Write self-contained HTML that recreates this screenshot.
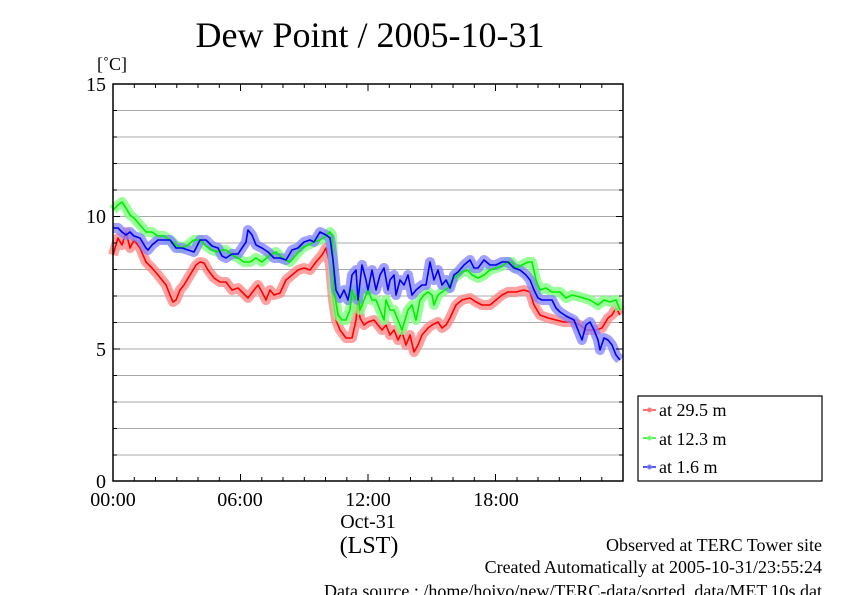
<!DOCTYPE html>
<html><head><meta charset="utf-8"><style>
html,body{margin:0;padding:0;background:#fff;}
svg{display:block;font-family:"Liberation Serif",serif;}
</style></head><body>
<svg width="842" height="595" viewBox="0 0 842 595" xmlns="http://www.w3.org/2000/svg">
<rect width="842" height="595" fill="#fff"/>
<text x="370" y="47" font-size="36" text-anchor="middle">Dew Point / 2005-10-31</text>
<text x="97" y="70" font-size="18">[˚C]</text>
<g stroke="#aaa" stroke-width="1">
<line x1="113" x2="623" y1="110.5" y2="110.5"/><line x1="113" x2="623" y1="137" y2="137"/><line x1="113" x2="623" y1="163.5" y2="163.5"/><line x1="113" x2="623" y1="190" y2="190"/><line x1="113" x2="623" y1="216.5" y2="216.5"/><line x1="113" x2="623" y1="243" y2="243"/><line x1="113" x2="623" y1="269.5" y2="269.5"/><line x1="113" x2="623" y1="296" y2="296"/><line x1="113" x2="623" y1="322.5" y2="322.5"/><line x1="113" x2="623" y1="349" y2="349"/><line x1="113" x2="623" y1="375.5" y2="375.5"/><line x1="113" x2="623" y1="402" y2="402"/><line x1="113" x2="623" y1="428.5" y2="428.5"/><line x1="113" x2="623" y1="455" y2="455"/>
</g>
<g fill="none" stroke-linejoin="round">
<polyline stroke="#ff8080" stroke-opacity="0.75" stroke-width="10" points="113,255 118,238 122,245 126,232 130,248 134,240 140,248 146,262 152,268 158,275 162,280 166,285 170,295 173,302 176,300 180,290 184,285 190,275 196,265 200,262 204,263 208,270 214,278 220,282 226,282 232,290 238,288 242,292 248,298 254,290 258,285 262,292 266,300 270,290 274,295 280,293 286,280 292,275 298,270 304,268 310,270 316,262 322,255 326,248 330,265 333,300 336,320 340,330 346,338 352,338 356,320 358,300 360,318 364,325 368,322 374,320 378,325 382,330 386,325 390,335 394,330 398,340 402,332 406,345 410,335 414,352 418,345 422,335 428,328 432,325 438,322 442,328 446,325 450,318 456,305 462,300 470,298 476,302 482,305 490,305 496,300 502,295 508,292 516,292 524,290 530,292 534,305 540,315 548,318 556,320 564,322 572,322 580,325 586,330 590,330 596,330 602,328 608,318 612,315 616,308 620,315"/>
<polyline stroke="#ff0000" stroke-width="1.6" points="113,255 118,238 122,245 126,232 130,248 134,240 140,248 146,262 152,268 158,275 162,280 166,285 170,295 173,302 176,300 180,290 184,285 190,275 196,265 200,262 204,263 208,270 214,278 220,282 226,282 232,290 238,288 242,292 248,298 254,290 258,285 262,292 266,300 270,290 274,295 280,293 286,280 292,275 298,270 304,268 310,270 316,262 322,255 326,248 330,265 333,300 336,320 340,330 346,338 352,338 356,320 358,300 360,318 364,325 368,322 374,320 378,325 382,330 386,325 390,335 394,330 398,340 402,332 406,345 410,335 414,352 418,345 422,335 428,328 432,325 438,322 442,328 446,325 450,318 456,305 462,300 470,298 476,302 482,305 490,305 496,300 502,295 508,292 516,292 524,290 530,292 534,305 540,315 548,318 556,320 564,322 572,322 580,325 586,330 590,330 596,330 602,328 608,318 612,315 616,308 620,315"/>
<polyline stroke="#80ff80" stroke-opacity="0.8" stroke-width="10" points="113,210 118,205 122,202 126,208 130,215 134,218 140,225 146,232 152,232 158,236 164,236 170,240 176,245 182,248 188,245 194,240 200,240 206,246 212,250 218,252 222,250 226,250 232,255 238,258 244,262 250,262 256,258 262,262 270,255 276,252 282,258 290,262 296,255 302,248 308,245 314,242 320,240 326,236 330,232 332,235 334,290 338,315 342,320 346,320 350,310 352,290 355,300 358,290 360,310 364,300 368,290 372,300 376,300 380,310 384,320 386,300 390,310 394,310 398,320 402,330 408,310 412,305 416,320 420,300 424,295 428,292 432,295 434,305 438,295 442,292 448,288 452,280 458,275 462,272 468,270 472,275 478,278 484,275 490,270 496,268 502,266 508,262 512,262 516,268 522,265 528,262 532,262 536,280 540,290 546,288 552,292 560,292 566,298 572,295 580,297 590,300 598,305 604,300 610,302 616,300 620,310"/>
<polyline stroke="#8080ff" stroke-opacity="0.75" stroke-width="10" points="113,228 118,228 122,232 126,235 130,232 134,236 140,238 146,248 148,250 152,245 158,240 164,240 170,240 176,248 182,248 188,250 194,252 200,240 206,240 212,246 218,248 222,256 226,258 232,254 238,254 242,248 246,242 248,230 252,235 256,245 262,248 268,252 274,258 280,258 286,260 292,250 298,248 304,242 310,240 314,242 320,232 326,235 330,238 333,260 336,290 340,298 344,290 348,300 350,290 352,275 356,270 358,300 362,265 366,280 368,290 372,270 376,290 380,275 384,268 388,290 390,280 394,275 396,295 400,280 404,285 408,275 412,295 416,290 422,285 426,285 430,262 434,280 438,270 442,285 446,280 450,288 454,275 458,272 464,265 470,260 474,268 478,268 484,260 490,265 496,265 502,262 508,262 514,268 520,270 526,275 530,280 534,290 538,298 542,300 548,300 552,300 556,308 560,312 566,316 570,318 574,320 578,330 582,340 586,325 590,322 594,330 598,340 600,350 604,338 608,340 612,345 616,355 620,360"/>
<polyline stroke="#00ee00" stroke-width="1.6" points="113,210 118,205 122,202 126,208 130,215 134,218 140,225 146,232 152,232 158,236 164,236 170,240 176,245 182,248 188,245 194,240 200,240 206,246 212,250 218,252 222,250 226,250 232,255 238,258 244,262 250,262 256,258 262,262 270,255 276,252 282,258 290,262 296,255 302,248 308,245 314,242 320,240 326,236 330,232 332,235 334,290 338,315 342,320 346,320 350,310 352,290 355,300 358,290 360,310 364,300 368,290 372,300 376,300 380,310 384,320 386,300 390,310 394,310 398,320 402,330 408,310 412,305 416,320 420,300 424,295 428,292 432,295 434,305 438,295 442,292 448,288 452,280 458,275 462,272 468,270 472,275 478,278 484,275 490,270 496,268 502,266 508,262 512,262 516,268 522,265 528,262 532,262 536,280 540,290 546,288 552,292 560,292 566,298 572,295 580,297 590,300 598,305 604,300 610,302 616,300 620,310"/>
<polyline stroke="#0000ee" stroke-width="1.6" points="113,228 118,228 122,232 126,235 130,232 134,236 140,238 146,248 148,250 152,245 158,240 164,240 170,240 176,248 182,248 188,250 194,252 200,240 206,240 212,246 218,248 222,256 226,258 232,254 238,254 242,248 246,242 248,230 252,235 256,245 262,248 268,252 274,258 280,258 286,260 292,250 298,248 304,242 310,240 314,242 320,232 326,235 330,238 333,260 336,290 340,298 344,290 348,300 350,290 352,275 356,270 358,300 362,265 366,280 368,290 372,270 376,290 380,275 384,268 388,290 390,280 394,275 396,295 400,280 404,285 408,275 412,295 416,290 422,285 426,285 430,262 434,280 438,270 442,285 446,280 450,288 454,275 458,272 464,265 470,260 474,268 478,268 484,260 490,265 496,265 502,262 508,262 514,268 520,270 526,275 530,280 534,290 538,298 542,300 548,300 552,300 556,308 560,312 566,316 570,318 574,320 578,330 582,340 586,325 590,322 594,330 598,340 600,350 604,338 608,340 612,345 616,355 620,360"/>
</g>
<rect x="113" y="84" width="510" height="397" fill="none" stroke="#000" stroke-width="1.5"/>
<g stroke="#000" stroke-width="1">
<path d="M134.3,84v4M155.5,84v4M176.8,84v4M198,84v4M219.3,84v4M261.8,84v4M283,84v4M304.3,84v4M325.5,84v4M346.8,84v4M389.3,84v4M410.5,84v4M431.8,84v4M453,84v4M474.3,84v4M517,84v4M538,84v4M559.3,84v4M580.5,84v4M601.8,84v4"/>
<path d="M240.5,84v7M368,84v7M495.5,84v7"/>
<path d="M134.3,481v-4M155.5,481v-4M176.8,481v-4M198,481v-4M219.3,481v-4M261.8,481v-4M283,481v-4M304.3,481v-4M325.5,481v-4M346.8,481v-4M389.3,481v-4M410.5,481v-4M431.8,481v-4M453,481v-4M474.3,481v-4M517,481v-4M538,481v-4M559.3,481v-4M580.5,481v-4M601.8,481v-4"/>
<path d="M240.5,481v-7M368,481v-7M495.5,481v-7"/>
<path d="M113,110.5h4M113,137h4M113,163.5h4M113,190h4M113,243h4M113,269.5h4M113,296h4M113,322.5h4M113,375.5h4M113,402h4M113,428.5h4M113,455h4M113,216.5h7M113,349h7"/>
<path d="M623,110.5h-4M623,137h-4M623,163.5h-4M623,190h-4M623,243h-4M623,269.5h-4M623,296h-4M623,322.5h-4M623,375.5h-4M623,402h-4M623,428.5h-4M623,455h-4M623,216.5h-7M623,349h-7"/>
</g>
<g font-size="20" text-anchor="end">
<text x="106" y="91">15</text><text x="106" y="223">10</text><text x="106" y="356">5</text><text x="106" y="488">0</text>
</g>
<g font-size="20" text-anchor="middle">
<text x="113" y="506">00:00</text><text x="240" y="506">06:00</text><text x="368" y="506">12:00</text><text x="496" y="506">18:00</text>
<text x="368" y="528">Oct-31</text>
<text x="369" y="553" font-size="24">(LST)</text>
</g>
<rect x="638" y="396" width="184" height="85" fill="#fff" stroke="#000" stroke-width="1.2"/>
<g stroke-width="1.5">
<line x1="643" x2="656" y1="410" y2="410" stroke="#ff4040"/><circle cx="649.5" cy="410" r="1.8" fill="none" stroke="#ff8080"/>
<line x1="643" x2="656" y1="438" y2="438" stroke="#20ee20"/><circle cx="649.5" cy="438" r="1.8" fill="none" stroke="#80ff80"/>
<line x1="643" x2="656" y1="467" y2="467" stroke="#2020ee"/><circle cx="649.5" cy="467" r="1.8" fill="none" stroke="#8080ff"/>
</g>
<g font-size="18">
<text x="659" y="416">at 29.5 m</text><text x="659" y="445">at 12.3 m</text><text x="659" y="473">at 1.6 m</text>
</g>
<g font-size="18" text-anchor="end">
<text x="822" y="551">Observed at TERC Tower site</text>
<text x="822" y="573">Created Automatically at 2005-10-31/23:55:24</text>
<text x="822" y="597">Data source : /home/hoivo/new/TERC-data/sorted_data/MET.10s.dat</text>
</g>
</svg>
</body></html>
